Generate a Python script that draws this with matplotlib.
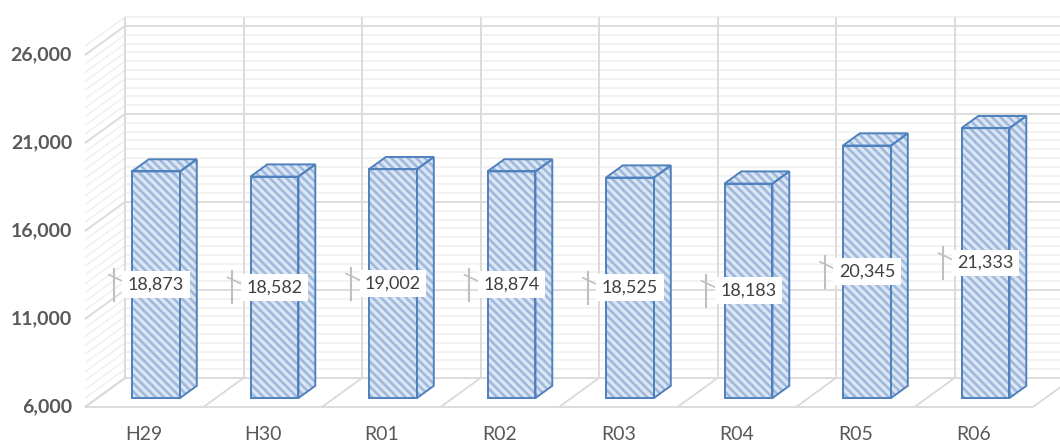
import matplotlib
matplotlib.use('Agg')
import matplotlib.pyplot as plt
import numpy as np

# 年度別データ
years = ['H29', 'H30', 'R01', 'R02', 'R03', 'R04', 'R05', 'R06']
values = [18873, 18582, 19002, 18874, 18525, 18183, 20345, 21333]
y_ticks = [6000, 11000, 16000, 21000, 26000]
v_min, v_top = 6000, 26500

plt.rcParams['font.family'] = ['Lato', 'DejaVu Sans']
plt.rcParams['hatch.linewidth'] = 1.9

# 画素 -> データ単位 (横: 1カテゴリ = 118.5px, 縦: 1000 = 17.6px)
PX = 1 / 118.5
PV = 1000 / 17.6
DX = 40 * PX   # 奥行き方向のずれ
DY = 29 * PV

def proj(x, v, d):
    return x + d * DX, v + d * DY

def line3d(ax, p, q, **kw):
    (x1, y1), (x2, y2) = proj(*p), proj(*q)
    ax.plot([x1, x2], [y1, y2], solid_capstyle='butt', **kw)

def face(ax, pts, fc, hc, ec):
    xy = [proj(*p) for p in pts]
    ax.add_patch(plt.Polygon(xy, closed=True, facecolor=fc, edgecolor=hc,
                             hatch='\\\\\\\\', linewidth=0, zorder=3))
    ax.add_patch(plt.Polygon(xy, closed=True, facecolor='none', edgecolor=ec,
                             linewidth=1.4, joinstyle='miter', zorder=4))

fig = plt.figure(figsize=(10.6, 4.43), dpi=100)
ax = fig.add_axes([0, 0, 1, 1])
ax.axis('off')
ax.set_xlim(-85 * PX, (1060 - 85) * PX)
ax.set_ylim(v_min - (443 - 407) * PV, v_min + 407 * PV)

n = len(years)
major_c, minor_c = '#d9d9d9', '#efefef'

# 背面・側面のグリッド線
for v in np.arange(v_min, v_top + 1, 500):
    major = (v - v_min) % 5000 == 0
    c = major_c if major else minor_c
    lw = 1.3 if major else 1.1
    line3d(ax, (0, v, 1), (n, v, 1), color=c, lw=lw, zorder=1 if not major else 2)
    line3d(ax, (0, v, 0), (0, v, 1), color=c, lw=lw, zorder=1 if not major else 2)

for i in range(n + 1):
    line3d(ax, (i, v_min, 1), (i, v_top, 1), color=major_c, lw=1.3, zorder=2)
    line3d(ax, (i, v_min, 0), (i, v_min, 1), color=major_c, lw=1.3, zorder=2)
line3d(ax, (0, v_min, 0), (n, v_min, 0), color=major_c, lw=1.3, zorder=2)

# 3D 棒
fc, hc, ec = '#dce6f3', '#9fb9de', '#4f81bd'
d0, d1 = 0.31, 0.73
for i, v in enumerate(values):
    xl, xr = i + 0.292, i + 0.697
    face(ax, [(xl, v_min, d0), (xr, v_min, d0), (xr, v, d0), (xl, v, d0)], fc, hc, ec)
    face(ax, [(xr, v_min, d0), (xr, v_min, d1), (xr, v, d1), (xr, v, d0)], fc, hc, ec)
    face(ax, [(xl, v, d0), (xr, v, d0), (xr, v, d1), (xl, v, d1)], fc, hc, ec)

    # データラベル
    cx, cy = proj((xl + xr) / 2, (v_min + v) / 2, d0)
    vx = cx - 42 * PX
    ax.plot([vx, vx], [cy + 16 * PV, cy - 16 * PV], color='#bfbfbf', lw=1.5, zorder=5)
    ax.plot([vx - 5 * PX, vx + 14 * PX], [cy + 10 * PV, cy + 1 * PV],
            color='#bfbfbf', lw=1.2, zorder=5)
    ax.text(cx, cy, f'{v:,}', ha='center', va='center', fontsize=13,
            color='#404040', zorder=6,
            bbox=dict(boxstyle='square,pad=0.3', facecolor='white', edgecolor='none'))

# 軸ラベル
for t in y_ticks:
    ax.text(-13 * PX, t, f'{t:,}', ha='right', va='center', fontsize=14,
            fontweight='bold', color='#595959')
for i, name in enumerate(years):
    ax.text(i + 0.5, v_min - 27 * PV, name, ha='center', va='center',
            fontsize=14, color='#595959')

fig.savefig('out.png', dpi=100, facecolor='white')
